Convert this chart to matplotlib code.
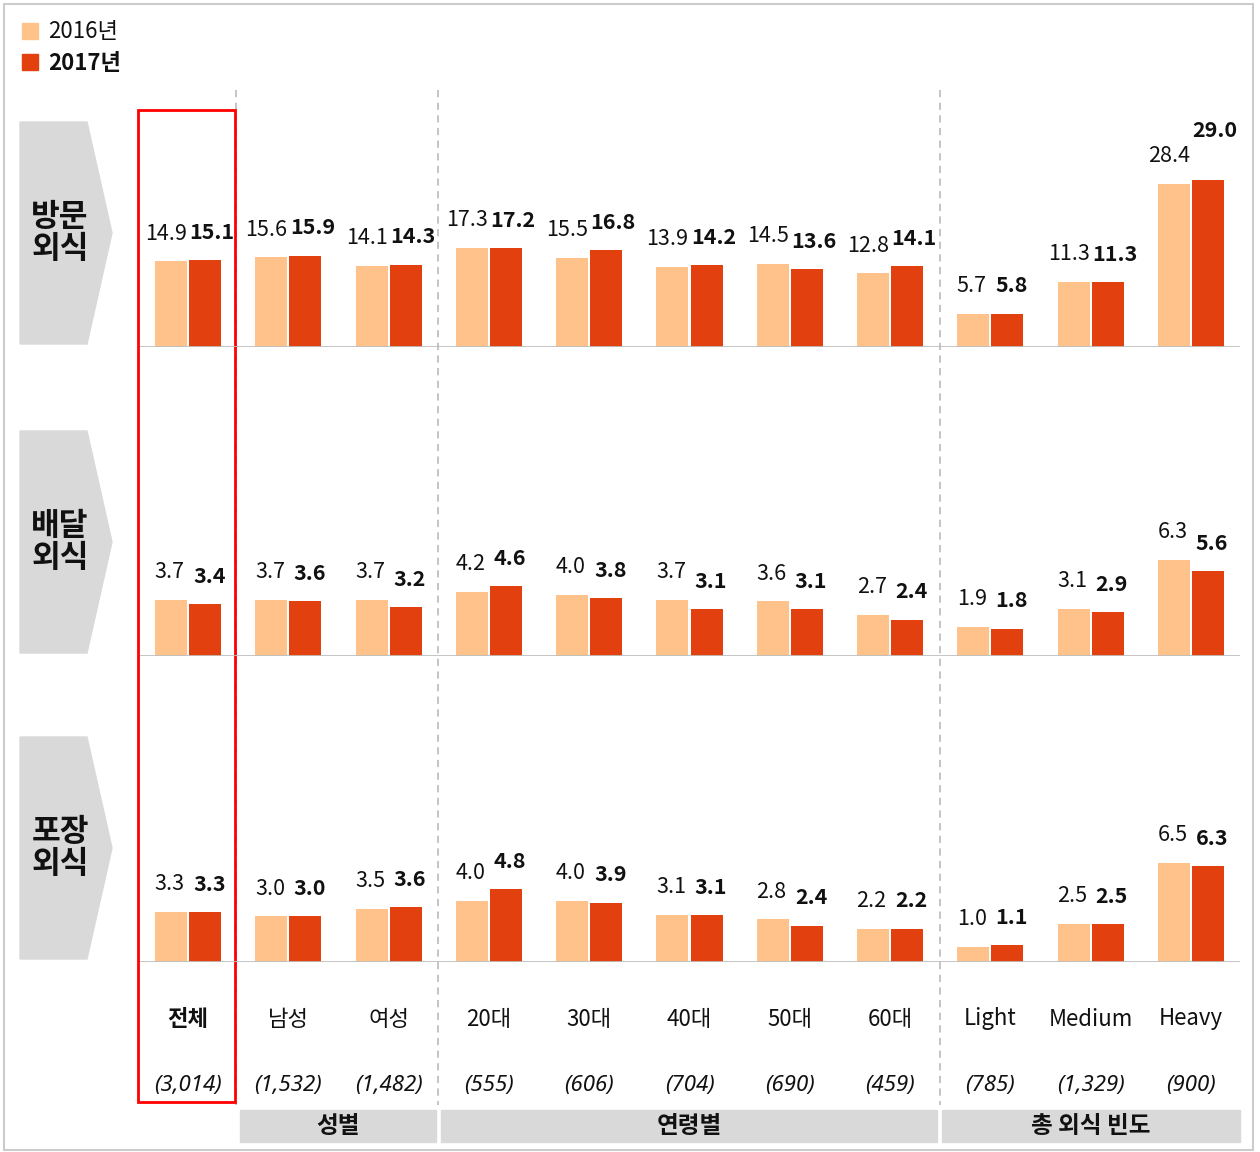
import matplotlib
matplotlib.use("Agg")
import matplotlib.pyplot as plt
import numpy as np
from matplotlib.patches import Polygon, Rectangle
from matplotlib.transforms import blended_transform_factory

plt.rcParams['font.family'] = ['Noto Sans CJK KR', 'DejaVu Sans']

categories = ['전체', '남성', '여성', '20대', '30대', '40대', '50대', '60대', 'Light', 'Medium', 'Heavy']
sample_sizes = ['(3,014)', '(1,532)', '(1,482)', '(555)', '(606)', '(704)', '(690)', '(459)',
                '(785)', '(1,329)', '(900)']
row_names = ['방문\n외식', '배달\n외식', '포장\n외식']
group_names = ['성별', '연령별', '총 외식 빈도']
group_spans = [(1, 2), (3, 7), (8, 10)]
years = ['2016년', '2017년']

visit_2016 = [14.9, 15.6, 14.1, 17.3, 15.5, 13.9, 14.5, 12.8, 5.7, 11.3, 28.4]
visit_2017 = [15.1, 15.9, 14.3, 17.2, 16.8, 14.2, 13.6, 14.1, 5.8, 11.3, 29.0]
delivery_2016 = [3.7, 3.7, 3.7, 4.2, 4.0, 3.7, 3.6, 2.7, 1.9, 3.1, 6.3]
delivery_2017 = [3.4, 3.6, 3.2, 4.6, 3.8, 3.1, 3.1, 2.4, 1.8, 2.9, 5.6]
takeout_2016 = [3.3, 3.0, 3.5, 4.0, 4.0, 3.1, 2.8, 2.2, 1.0, 2.5, 6.5]
takeout_2017 = [3.3, 3.0, 3.6, 4.8, 3.9, 3.1, 2.4, 2.2, 1.1, 2.5, 6.3]

rows = [(visit_2016, visit_2017), (delivery_2016, delivery_2017), (takeout_2016, takeout_2017)]

C16 = '#FFC28A'
C17 = '#E2410F'
GRAY = '#D9D9D9'
LINE = '#BFBFBF'
TXT = '#111111'

W, H = 1260, 1152
fig = plt.figure(figsize=(W / 100, H / 100), dpi=100)

# overlay in pixel coordinates for decorations
over = fig.add_axes([0, 0, 1, 1])
over.set_xlim(0, W)
over.set_ylim(H, 0)
over.axis('off')
over.add_patch(Rectangle((4, 4), 1249, 1146, fill=False, ec='#CCCCCC', lw=1.5))

# legend
for i, (lab, col) in enumerate(zip(years, [C16, C17])):
    y = 31 + i * 31
    over.add_patch(Rectangle((22, y - 8), 16, 16, color=col))
    over.text(48, y + 1, lab, fontsize=16, va='center', ha='left',
              fontweight='bold' if i == 1 else 'normal', color=TXT)

baselines = [347, 656, 962]
px_per_unit = [5.75, 15.2, 15.2]
ax_h = 230
x_left, x_right = 140, 1240
xlim = (-0.48, 10.49)
width = 0.32
off = 0.17
x = np.arange(len(categories))

axes = []
for r, ((v16, v17), base, ppu) in enumerate(zip(rows, baselines, px_per_unit)):
    ax = fig.add_axes([x_left / W, 1 - base / H, (x_right - x_left) / W, ax_h / H])
    ax.set_xlim(*xlim)
    ax.set_ylim(0, ax_h / ppu)
    ax.axis('off')
    ax.patch.set_alpha(0)
    ax.bar(x - off, v16, width, color=C16, zorder=2)
    ax.bar(x + off, v17, width, color=C17, zorder=2)
    ax.axhline(0, color=LINE, lw=2, zorder=3)
    for i in range(len(categories)):
        s16, s17 = f'{v16[i]:.1f}', f'{v17[i]:.1f}'
        # wider labels get pushed apart a little
        dx16 = -3.5 if len(s16) > 3 else -1
        dx17 = 5 if len(s17) > 3 else 3
        ax.annotate(s16, (x[i] - off, v16[i]), xytext=(dx16, 20),
                    textcoords='offset points', ha='center', va='center',
                    fontsize=15.5, color=TXT)
        extra = 16 if (r == 0 and i == len(categories) - 1) else 0
        ax.annotate(s17, (x[i] + off, v17[i]), xytext=(dx17, 20 + extra),
                    textcoords='offset points', ha='center', va='center',
                    fontsize=15.5, fontweight='bold', color=TXT)
    axes.append(ax)

    # row label arrow
    top, bot = base - 225, base - 3
    mid = (top + bot) / 2
    over.add_patch(Polygon([(20, top), (87, top), (112, mid), (87, bot), (20, bot)],
                           closed=True, color=GRAY, zorder=1))
    over.text(60, mid, row_names[r], fontsize=22.5, fontweight='bold', ha='center',
              va='center', linespacing=1.0, color=TXT)

# x-data / pixel-y blended transform for the bottom texts
ax0 = axes[0]
tr = blended_transform_factory(ax0.transData, over.transData)

for i, (cat, n) in enumerate(zip(categories, sample_sizes)):
    over.text(i, 1019, cat, transform=tr, ha='center', va='center', fontsize=16,
              fontweight='bold' if i == 0 else 'normal', color=TXT)
    over.text(i, 1085, n, transform=tr, ha='center', va='center', fontsize=16,
              style='italic', family=['Noto Sans', 'DejaVu Sans'], color=TXT)

# dashed separators
for sx in [0.48, 2.49, 7.5]:
    over.plot([sx, sx], [90, 1105], transform=tr, color=LINE, lw=1.3,
              ls=(0, (4, 3)), zorder=0)

# group header boxes
for name, (a, b) in zip(group_names, group_spans):
    x0 = a - 0.48
    x1 = b + 0.47 if b < len(categories) - 1 else xlim[1]
    over.add_patch(Rectangle((x0, 1110), x1 - x0, 32, transform=tr, color=GRAY, zorder=1))
    over.text((x0 + x1) / 2, 1126, name, transform=tr, ha='center', va='center',
              fontsize=17, fontweight='bold', color=TXT)

# highlight box around the total column
over.add_patch(Rectangle((-0.5, 110), 0.97, 992, transform=tr, fill=False,
                         ec='#FF0000', lw=2, zorder=5))

fig.savefig('out.png', dpi=100)
